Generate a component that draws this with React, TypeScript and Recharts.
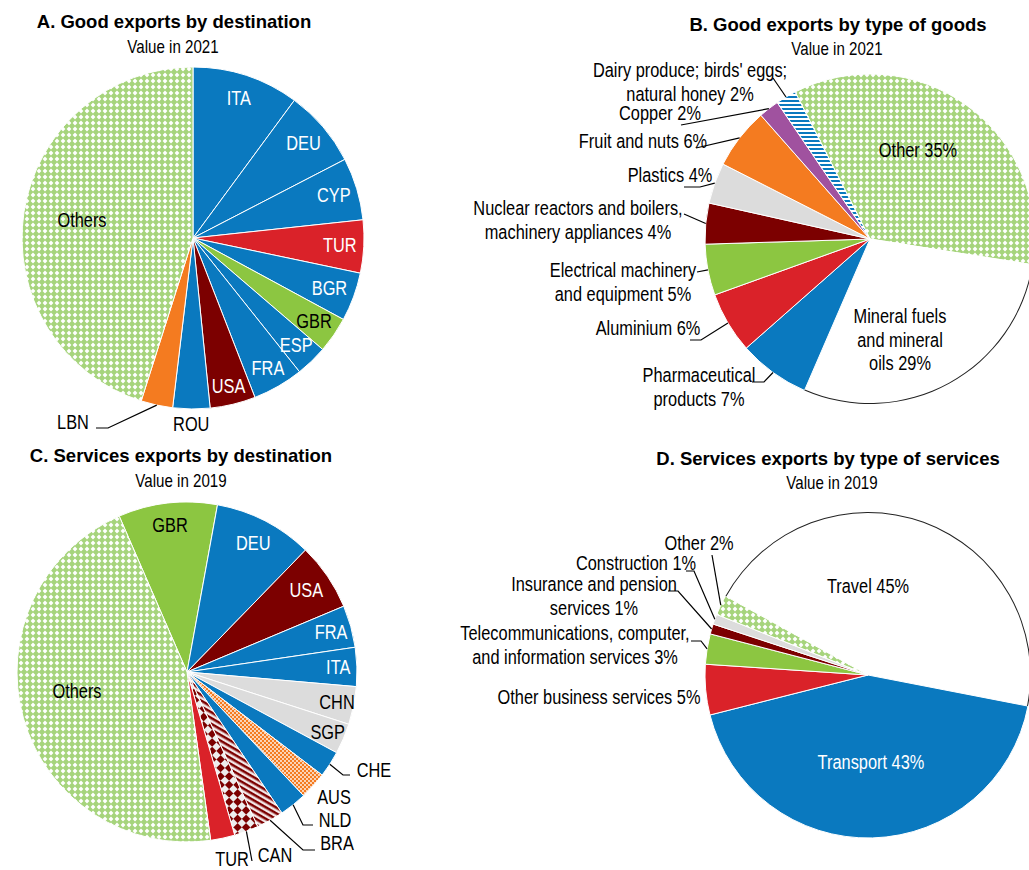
import React from "react";
import { PieChart, Pie, Cell } from "recharts";

const WIDTH = 1029;
const HEIGHT = 870;

// A. Good exports by destination, value in 2021 (% of total)
const goodsDestNames = ["ITA", "DEU", "CYP", "TUR", "BGR", "GBR", "ESP", "FRA", "USA", "ROU", "LBN", "Others"];
const goodsDestShares = [10.1, 7.3, 5.9, 5.0, 4.6, 3.4, 3.0, 4.8, 4.3, 3.5, 3.0, 45.1];

// B. Good exports by type of goods, value in 2021 (%)
const goodsTypeNames = [
  "Other",
  "Mineral fuels and mineral oils",
  "Pharmaceutical products",
  "Aluminium",
  "Electrical machinery and equipment",
  "Nuclear reactors and boilers, machinery appliances",
  "Plastics",
  "Fruit and nuts",
  "Copper",
  "Dairy produce; birds' eggs; natural honey",
];
const goodsTypeShares = [35, 29, 7, 6, 5, 4, 4, 6, 2, 2];

// C. Services exports by destination, value in 2019 (% of total)
const servDestNames = ["GBR", "DEU", "USA", "FRA", "ITA", "CHN", "SGP", "CHE", "AUS", "NLD", "BRA", "CAN", "TUR", "Others"];
const servDestShares = [9.4, 9.4, 6.4, 4.0, 3.7, 3.6, 2.9, 2.5, 2.6, 2.6, 2.6, 2.3, 2.3, 45.7];

// D. Services exports by type of services, value in 2019 (%)
const servTypeNames = [
  "Travel",
  "Transport",
  "Other business services",
  "Telecommunications, computer, and information services",
  "Insurance and pension services",
  "Construction",
  "Other",
];
const servTypeShares = [45, 43, 5, 3, 1, 1, 2];

const toRows = (names: string[], values: number[]) => names.map((name, i) => ({ name, value: values[i] }));

const BLUE = "#0a79bf";
const RED = "#da2229";
const DARK = "#7c0000";
const GREEN = "#8cc641";
const ORANGE = "#f47b20";
const PURPLE = "#a0529f";
const GREY = "#dcdcdc";
const LATTICE = "url(#lattice)";

const fillsA = [BLUE, BLUE, BLUE, RED, BLUE, GREEN, BLUE, BLUE, DARK, BLUE, ORANGE, LATTICE];
const fillsB = [LATTICE, "#fff", BLUE, RED, GREEN, DARK, GREY, ORANGE, PURPLE, "url(#blueStripes)"];
const fillsC = [GREEN, BLUE, DARK, BLUE, BLUE, GREY, GREY, BLUE, "url(#orangeDots)", BLUE, "url(#redStripes)", "url(#redChecks)", RED, LATTICE];
const fillsD = ["#fff", BLUE, RED, GREEN, DARK, GREY, LATTICE];

// line breaks for the long category labels
const linesB = [
  ["Other"],
  ["Mineral fuels", "and mineral", "oils"],
  ["Pharmaceutical", "products"],
  ["Aluminium"],
  ["Electrical machinery", "and equipment"],
  ["Nuclear reactors and boilers,", "machinery appliances"],
  ["Plastics"],
  ["Fruit and nuts"],
  ["Copper"],
  ["Dairy produce; birds' eggs;", "natural honey"],
];
const linesD = [
  ["Travel"],
  ["Transport"],
  ["Other business services"],
  ["Telecommunications, computer,", "and information services"],
  ["Insurance and pension", "services"],
  ["Construction"],
  ["Other"],
];

type LabelSpec = {
  r?: number; // fraction of the radius, along the slice middle
  at?: [number, number]; // offset from the pie centre
  color?: string;
  leader?: [number, number][]; // leader points after the slice edge, offsets from centre
};

const W = "#fff";

const labelsA: LabelSpec[] = [
  { r: 0.86, color: W },
  { r: 0.85, color: W },
  { r: 0.86, color: W },
  { r: 0.86, color: W },
  { r: 0.85, color: W },
  { r: 0.86 },
  { r: 0.87, color: W },
  { r: 0.88, color: W },
  { r: 0.89, color: W },
  { r: 1.09 },
  { at: [-120, 184], leader: [[-85, 190], [-97, 190]] },
  { at: [-111, -18] },
];

const labelsB: LabelSpec[] = [
  { at: [48, -89] },
  { at: [30, 101] },
  { at: [-171, 148], leader: [[-106, 143], [-118, 143]] },
  { at: [-222, 89], leader: [[-169, 101], [-180, 101]] },
  { at: [-247, 43], leader: [[-173, 33]] },
  { at: [-292, -19], leader: [[-186, -25]] },
  { at: [-200, -64], leader: [[-170, -52], [-186, -52]] },
  { at: [-227, -98], leader: [[-174, -91]] },
  { at: [-210, -126], leader: [[-189, -114]] },
  { at: [-180, -157], leader: [[-97, -161]] },
];

const labelsC: LabelSpec[] = [
  { r: 0.87 },
  { r: 0.85, color: W },
  { r: 0.85, color: W },
  { r: 0.88, color: W },
  { r: 0.89, color: W },
  { r: 0.9 },
  { r: 0.9 },
  { at: [187, 98], leader: [[156, 103], [163, 103]] },
  { at: [147, 125] },
  { at: [148, 148], leader: [[116, 153], [126, 153]] },
  { at: [150, 171], leader: [[116, 178], [128, 178]] },
  { at: [88, 183], leader: [[65, 189]] },
  { at: [45, 187] },
  { at: [-110, 19] },
];

const labelsD: LabelSpec[] = [
  { at: [0, -89] },
  { at: [3, 87], color: W },
  { at: [-269, 22] },
  { at: [-293, -30], leader: [[-167, -34], [-177, -34]] },
  { at: [-274, -79], leader: [[-190, -84], [-200, -84]] },
  { at: [-232, -112], leader: [[-174, -104], [-182, -104]] },
  { at: [-169, -132], leader: [[-156, -120]] },
];

const FONT = "'Liberation Sans', Arial, sans-serif";
const RAD = Math.PI / 180;

const polar = (cx: number, cy: number, r: number, angle: number): [number, number] => [
  cx + r * Math.cos(-angle * RAD),
  cy + r * Math.sin(-angle * RAD),
];

// Arial squeezed horizontally, like the narrow face used in the panels
function NarrowText({
  x,
  y,
  lines,
  color = "#000",
  size = 19.5,
  lineHeight = 23.5,
  weight = "normal",
  squeeze = 0.84,
}: {
  x: number;
  y: number;
  lines: string[];
  color?: string;
  size?: number;
  lineHeight?: number;
  weight?: string;
  squeeze?: number;
}) {
  const top = -((lines.length - 1) / 2) * lineHeight;
  return (
    <text
      transform={`translate(${x},${y}) scale(${squeeze},1)`}
      textAnchor="middle"
      fill={color}
      fontSize={size}
      fontWeight={weight}
      fontFamily={FONT}
    >
      {lines.map((ln, i) => (
        <tspan key={i} x={0} y={top + i * lineHeight + size * 0.35}>
          {ln}
        </tspan>
      ))}
    </text>
  );
}

const makeLabel =
  (specs: LabelSpec[], lines: string[][] | null, withShare: boolean) => (props: any) => {
    const { cx, cy, midAngle, outerRadius, index, value, name } = props;
    const spec = specs[index];
    if (!spec) return null;
    const [x, y] = spec.at
      ? [cx + spec.at[0], cy + spec.at[1]]
      : polar(cx, cy, outerRadius * (spec.r ?? 0.85), midAngle);
    const base = lines ? lines[index] : [name];
    const text = base.map((l, i) => (withShare && i === base.length - 1 ? `${l} ${value}%` : l));
    const pts = spec.leader
      ? [polar(cx, cy, outerRadius, midAngle), ...spec.leader.map(([dx, dy]) => [cx + dx, cy + dy])]
      : null;
    return (
      <g key={`label-${index}`}>
        {pts && (
          <polyline
            points={pts.map((p) => p.join(",")).join(" ")}
            fill="none"
            stroke="#000"
            strokeWidth={1.2}
          />
        )}
        <NarrowText x={x} y={y} lines={text} color={spec.color} />
      </g>
    );
  };

type PanelPie = {
  key: string;
  rows: { name: string; value: number }[];
  fills: string[];
  cx: number;
  cy: number;
  r: number;
  start: number;
  label: (p: any) => any;
  outlined?: number; // index of a white slice that gets a dark rim
};

const pies: PanelPie[] = [
  {
    key: "a",
    rows: toRows(goodsDestNames, goodsDestShares),
    fills: fillsA,
    cx: 193,
    cy: 238,
    r: 171,
    start: 90,
    label: makeLabel(labelsA, null, false),
  },
  {
    key: "b",
    rows: toRows(goodsTypeNames, goodsTypeShares),
    fills: fillsB,
    cx: 870,
    cy: 239,
    r: 165,
    start: 117,
    label: makeLabel(labelsB, linesB, true),
    outlined: 1,
  },
  {
    key: "c",
    rows: toRows(servDestNames, servDestShares),
    fills: fillsC,
    cx: 187,
    cy: 672,
    r: 170,
    start: 113.5,
    label: makeLabel(labelsC, null, false),
  },
  {
    key: "d",
    rows: toRows(servTypeNames, servTypeShares),
    fills: fillsD,
    cx: 868,
    cy: 675,
    r: 163,
    start: 151,
    label: makeLabel(labelsD, linesD, true),
    outlined: 0,
  },
];

const titles = [
  { title: "A. Good exports by destination", sub: "Value in 2021", x: 174, y: 22, sx: 173, sy: 47 },
  { title: "B. Good exports by type of goods", sub: "Value in 2021", x: 838, y: 25, sx: 837, sy: 49 },
  { title: "C. Services exports by destination", sub: "Value in 2019", x: 181, y: 456, sx: 181, sy: 481 },
  { title: "D. Services exports by type of services", sub: "Value in 2019", x: 828, y: 459, sx: 832, sy: 483 },
];

function Patterns() {
  return (
    <svg width={0} height={0} style={{ position: "absolute" }}>
      <defs>
        <pattern id="lattice" width={6} height={6} patternUnits="userSpaceOnUse">
          <rect width={6} height={6} fill="#a6d47c" />
          <path d="M3 0.6 L5.4 3 L3 5.4 L0.6 3 Z" fill="#fff" />
        </pattern>
        <pattern id="blueStripes" width={4} height={4} patternUnits="userSpaceOnUse">
          <rect width={4} height={4} fill="#fff" />
          <rect width={4} height={2} fill={BLUE} />
        </pattern>
        <pattern id="orangeDots" width={4} height={4} patternUnits="userSpaceOnUse">
          <rect width={4} height={4} fill={ORANGE} />
          <circle cx={1} cy={1} r={0.9} fill="#fff" />
          <circle cx={3} cy={3} r={0.9} fill="#fff" />
        </pattern>
        <pattern id="redStripes" width={5} height={5} patternUnits="userSpaceOnUse" patternTransform="rotate(30)">
          <rect width={5} height={5} fill="#f3e8e8" />
          <rect width={5} height={2.5} fill={DARK} />
        </pattern>
        <pattern id="redChecks" width={12} height={12} patternUnits="userSpaceOnUse" patternTransform="rotate(45)">
          <rect width={12} height={12} fill="#eeeeee" />
          <rect width={6} height={6} fill={DARK} />
          <rect x={6} y={6} width={6} height={6} fill={DARK} />
        </pattern>
      </defs>
    </svg>
  );
}

export default function App() {
  return (
    <div
      style={{
        position: "absolute",
        left: 0,
        top: 0,
        width: WIDTH,
        height: HEIGHT,
        background: "#fff",
        overflow: "hidden",
      }}
    >
      <Patterns />
      <PieChart width={WIDTH} height={HEIGHT} margin={{ top: 0, right: 0, bottom: 0, left: 0 }}>
        {pies.map((p) => (
          <Pie
            key={p.key}
            data={p.rows}
            dataKey="value"
            nameKey="name"
            cx={p.cx}
            cy={p.cy}
            outerRadius={p.r}
            startAngle={p.start}
            endAngle={p.start - 360}
            stroke="#fff"
            strokeWidth={1}
            label={p.label}
            labelLine={false}
            isAnimationActive={false}
          >
            {p.rows.map((row, i) => (
              <Cell key={row.name} fill={p.fills[i]} />
            ))}
          </Pie>
        ))}
        {pies
          .filter((p) => p.outlined !== undefined)
          .map((p) => (
            <Pie
              key={`${p.key}-rim`}
              data={p.rows}
              dataKey="value"
              nameKey="name"
              cx={p.cx}
              cy={p.cy}
              innerRadius={p.r - 1}
              outerRadius={p.r}
              startAngle={p.start}
              endAngle={p.start - 360}
              stroke="none"
              isAnimationActive={false}
            >
              {p.rows.map((row, i) => (
                <Cell key={row.name} fill={i === p.outlined ? "#222" : "none"} />
              ))}
            </Pie>
          ))}
      </PieChart>
      <svg
        width={WIDTH}
        height={HEIGHT}
        style={{ position: "absolute", left: 0, top: 0, pointerEvents: "none" }}
      >
        {titles.map((t) => (
          <g key={t.title}>
            <NarrowText x={t.x} y={t.y} lines={[t.title]} size={18.5} weight="bold" squeeze={1} />
            <NarrowText x={t.sx} y={t.sy} lines={[t.sub]} size={18} />
          </g>
        ))}
      </svg>
    </div>
  );
}
